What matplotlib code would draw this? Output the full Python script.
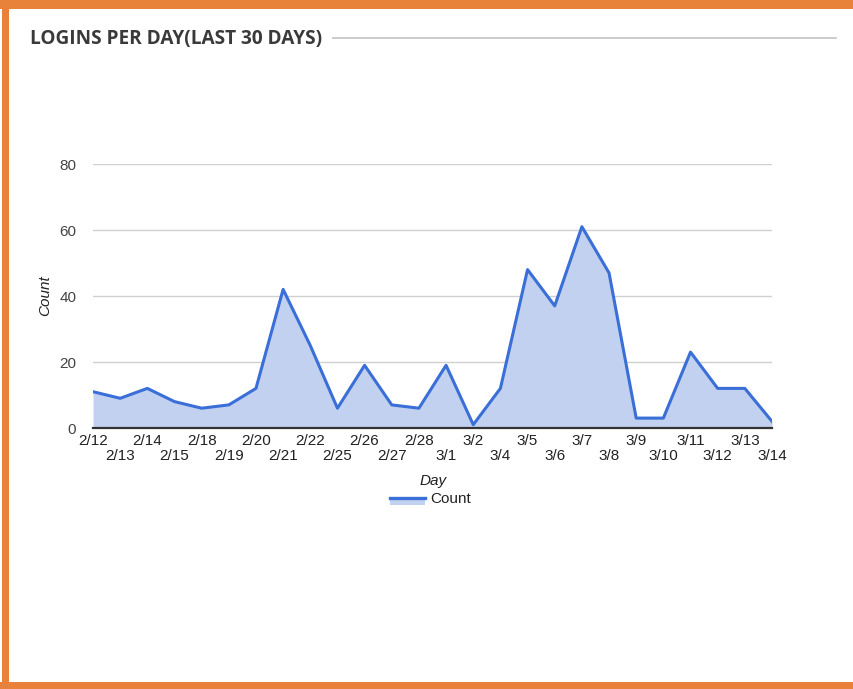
import numpy as np
import matplotlib.pyplot as plt
from matplotlib.patches import Rectangle
from matplotlib.lines import Line2D

days = ["2/12", "2/13", "2/14", "2/15", "2/18", "2/19", "2/20", "2/21", "2/22",
        "2/25", "2/26", "2/27", "2/28", "3/1", "3/2", "3/4", "3/5", "3/6",
        "3/7", "3/8", "3/9", "3/10", "3/11", "3/12", "3/13", "3/14"]
counts = [11, 9, 12, 8, 6, 7, 12, 42, 25, 6, 19, 7, 6, 19, 1, 12, 48, 37,
          61, 47, 3, 3, 23, 12, 12, 2]
yticks = [0, 20, 40, 60, 80]

blue = "#3a6fd8"
fillc = "#c2d1f0"
fs = 11

fig = plt.figure(figsize=(8.54, 6.89), dpi=100)
ax = fig.add_axes([93/854, 1-428/689, 679/854, 264/689])

x = np.arange(len(days))
ax.fill_between(x, counts, 0, color=fillc, lw=0)
ax.plot(x, counts, color=blue, lw=2.2, solid_joinstyle='round')

ax.set_xlim(0, len(days)-1)
ax.set_ylim(0, 80)
ax.set_yticks(yticks)
ax.set_yticklabels([str(v) for v in yticks], fontsize=fs, color="#444444",
                   family="Liberation Sans")
ax.set_xticks(x)
ax.set_xticklabels([d if i % 2 == 0 else "\n" + d for i, d in enumerate(days)],
                   fontsize=fs, color="#222222", family="Liberation Sans",
                   linespacing=1.15)
ax.tick_params(length=0)
ax.tick_params(axis='y', pad=12)
ax.tick_params(axis='x', pad=4)
ax.grid(axis='y', color="#d0d0d0", lw=1)
ax.set_axisbelow(True)
for s in ["top", "right", "left"]:
    ax.spines[s].set_visible(False)
ax.spines["bottom"].set_color("#333333")
ax.spines["bottom"].set_linewidth(1.6)
ax.spines["bottom"].set_zorder(5)

fig.text(45/854, 1-296/689, "Count", fontsize=fs, style="italic",
         family="Liberation Sans", color="#222222", rotation=90,
         ha="center", va="center")
fig.text(433/854, 1-481/689, "Day", fontsize=fs, style="italic",
         family="Liberation Sans", color="#222222", ha="center", va="center")

# legend
fig.add_artist(Rectangle((390/854, 1-505/689), 35/854, 7/689, color=fillc,
                         lw=0, transform=fig.transFigure))
fig.add_artist(Line2D([390/854, 425/854], [1-498/689, 1-498/689],
                      color=blue, lw=2.4))
fig.text(430/854, 1-499/689, "Count", fontsize=fs, family="Liberation Sans",
         color="#222222", va="center")

# title and rule
fig.text(30/854, 1-39/689, "LOGINS PER DAY(LAST 30 DAYS)", fontsize=13.7,
         weight="bold", family="Open Sans", color="#3a3a3a", va="center")
fig.add_artist(Line2D([333/854, 836/854], [1-38/689, 1-38/689],
                      color="#c8c8c8", lw=1.3))

# orange frame
orange = "#e8823a"
fig.add_artist(Rectangle((0, 1-9/689), 1, 9/689, color=orange, lw=0,
                         transform=fig.transFigure))
fig.add_artist(Rectangle((2/854, 0), 7/854, 1, color=orange, lw=0,
                         transform=fig.transFigure))
fig.add_artist(Rectangle((0, 0), 1, 7/689, color=orange, lw=0,
                         transform=fig.transFigure))

fig.savefig("out.png", dpi=100)
